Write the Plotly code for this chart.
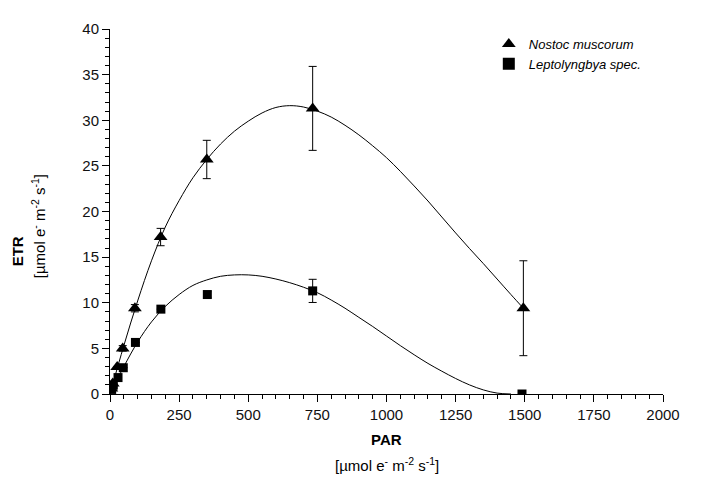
import plotly.graph_objects as go

# Measured data
nostoc_par = [5, 10, 26, 46, 90, 183, 350, 733, 1495]
nostoc_etr = [0.6, 1.15, 2.95, 5.0, 9.4, 17.2, 25.7, 31.3, 9.4]
nostoc_err = [0, 0, 0, 0.3, 0.4, 0.95, 2.1, 4.6, 5.2]

lepto_par = [6, 12, 29, 48, 92, 184, 352, 733, 1490]
lepto_etr = [0.5, 0.97, 1.8, 2.88, 5.65, 9.3, 10.9, 11.3, 0.0]
lepto_err = [0, 0, 0, 0, 0, 0, 0.3, 1.27, 0]

# Fitted curves
nostoc_fit_par = [0, 50, 100, 150, 200, 250, 300, 350, 400, 450, 500, 550, 600, 650, 700,
                  750, 800, 850, 900, 950, 1000, 1050, 1100, 1150, 1200, 1250, 1300, 1350,
                  1400, 1450, 1495]
nostoc_fit_etr = [0, 5.3, 10.2, 14.6, 18.3, 21.2, 23.7, 25.7, 27.4, 28.8, 29.9, 30.8, 31.4,
                  31.6, 31.45, 31.0, 30.35, 29.45, 28.4, 27.2, 25.9, 24.4, 22.8, 21.15, 19.4,
                  17.65, 15.95, 14.3, 12.6, 10.9, 9.4]

lepto_fit_par = [0, 50, 100, 150, 200, 250, 300, 350, 400, 450, 500, 550, 600, 650, 700,
                 750, 800, 850, 900, 950, 1000, 1050, 1100, 1150, 1200, 1250, 1300, 1350,
                 1400, 1450]
lepto_fit_etr = [0, 3.0, 5.7, 7.9, 9.6, 10.9, 11.9, 12.5, 12.9, 13.05, 13.05, 12.9, 12.6,
                 12.2, 11.7, 11.1, 10.3, 9.4, 8.4, 7.4, 6.35, 5.3, 4.3, 3.35, 2.5, 1.7, 1.0,
                 0.45, 0.1, 0.0]

x_ticks = [0, 250, 500, 750, 1000, 1250, 1500, 1750, 2000]
y_ticks = [0, 5, 10, 15, 20, 25, 30, 35, 40]

fig = go.Figure()

fig.add_trace(go.Scatter(x=nostoc_fit_par, y=nostoc_fit_etr, mode="lines",
                         line=dict(color="black", width=1, shape="spline"),
                         showlegend=False, hoverinfo="skip"))
fig.add_trace(go.Scatter(x=lepto_fit_par, y=lepto_fit_etr, mode="lines",
                         line=dict(color="black", width=1, shape="spline"),
                         showlegend=False, hoverinfo="skip"))

fig.add_trace(go.Scatter(x=nostoc_par, y=nostoc_etr, mode="markers",
                         name="<i>Nostoc muscorum</i>",
                         marker=dict(symbol="triangle-up", size=12, color="black"),
                         error_y=dict(type="data", array=nostoc_err, color="black",
                                      thickness=1, width=4)))
fig.add_trace(go.Scatter(x=lepto_par, y=lepto_etr, mode="markers",
                         name="<i>Leptolyngbya spec.</i>",
                         marker=dict(symbol="square", size=9, color="black"),
                         error_y=dict(type="data", array=lepto_err, color="black",
                                      thickness=1, width=4)))

axis_common = dict(showline=True, linecolor="black", linewidth=1, showgrid=False,
                   zeroline=False, ticks="outside", ticklen=7, tickcolor="black",
                   tickfont=dict(family="Liberation Sans, Arial", size=15, color="#111"))

fig.update_xaxes(range=[0, 2000], tickvals=x_ticks,
                 minor=dict(dtick=50, ticks="outside", ticklen=4, tickcolor="black", showgrid=False),
                 **axis_common)
fig.update_yaxes(range=[0, 40], tickvals=y_ticks,
                 minor=dict(dtick=1, ticks="outside", ticklen=4, tickcolor="black", showgrid=False),
                 **axis_common)

fig.update_layout(
    width=700, height=478,
    margin=dict(l=102, r=45, t=15, b=92),
    paper_bgcolor="white", plot_bgcolor="white",
    font=dict(family="Liberation Sans, Arial", color="black"),
    legend=dict(x=0.685, y=1.0, xanchor="left", yanchor="top",
                font=dict(size=13, family="Liberation Sans, Arial"),
                bgcolor="rgba(0,0,0,0)", tracegroupgap=0, itemsizing="constant",
                itemwidth=30),
    annotations=[
        dict(text="<b>PAR</b>", xref="paper", yref="paper", x=0.5, y=-0.125,
             showarrow=False, font=dict(size=15), yanchor="middle"),
        dict(text="[µmol e<sup>-</sup> m<sup>-2</sup> s<sup>-1</sup>]", xref="paper", yref="paper",
             x=0.5, y=-0.192, showarrow=False, font=dict(size=15), yanchor="middle"),
        dict(text="<b>ETR</b>", xref="paper", yref="paper", x=-0.167, y=0.39,
             showarrow=False, textangle=-90, font=dict(size=15), xanchor="center"),
        dict(text="[µmol e<sup>-</sup> m<sup>-2</sup> s<sup>-1</sup>]", xref="paper", yref="paper",
             x=-0.13, y=0.46, showarrow=False, textangle=-90, font=dict(size=15), xanchor="center"),
    ],
)

fig.write_html("out.html")
